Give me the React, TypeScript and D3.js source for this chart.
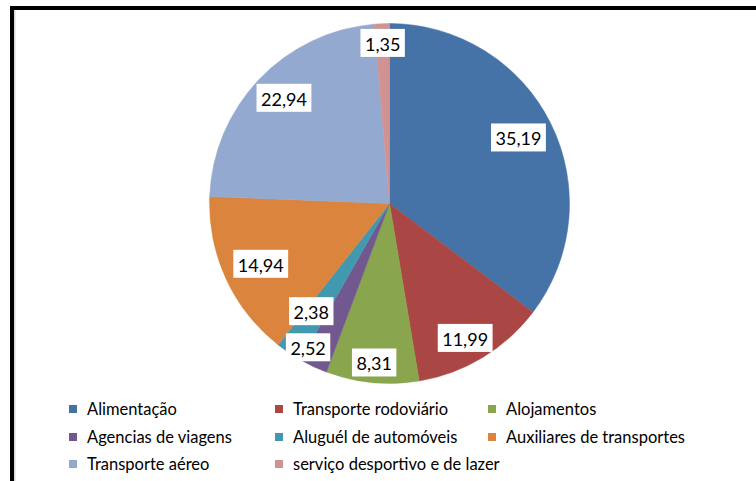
import React from 'react';
import * as d3 from 'd3';

const categories = [
  'Alimentação',
  'Transporte rodoviário',
  'Alojamentos',
  'Agencias de viagens',
  'Aluguél de automóveis',
  'Auxiliares de transportes',
  'Transporte aéreo',
  'serviço desportivo e de lazer',
];
const values = [35.19, 11.99, 8.31, 2.52, 2.38, 14.94, 22.94, 1.35];
const valueLabels = ['35,19', '11,99', '8,31', '2,52', '2,38', '14,94', '22,94', '1,35'];
const colors = ['#4572A7', '#AA4643', '#89A54E', '#71588F', '#4198AF', '#DB843D', '#93A9CF', '#D19392'];

// label nudges (px) for crowded small slices
const labelNudge: Record<number, [number, number]> = {
  0: [-2, -1],
  1: [-2, 6],
  2: [0, 0],
  3: [-16, 4],
  4: [7, -19],
  5: [4, -1],
  6: [1, -4],
};

const W = 756;
const H = 481;
const cx = 389.5;
const cy = 203.5;
const R = 180;
const labelFont = '18px Lato';
const legendFont = '16.5px Lato';

function measure(text: string, font: string): number {
  const c = document.createElement('canvas').getContext('2d');
  if (!c) return text.length * 8;
  c.font = font;
  return c.measureText(text).width;
}

export default function App() {
  const pie = d3.pie<number>().sort(null).value((d) => d)(values);
  const arc = d3.arc<d3.PieArcDatum<number>>().innerRadius(0).outerRadius(R);

  const labels = pie.map((p, i) => {
    const tw = measure(valueLabels[i], labelFont);
    const bw = tw + 9;
    const bh = 28;
    const mid = (p.startAngle + p.endAngle) / 2;
    const dx = Math.sin(mid);
    const dy = -Math.cos(mid);
    const hx = (bw / 2) * Math.sign(dx || 1);
    const hy = (bh / 2) * Math.sign(dy || 1);
    const lim = R - 3;
    const b = dx * hx + dy * hy;
    const c = hx * hx + hy * hy - lim * lim;
    const d = -b + Math.sqrt(b * b - c);
    const n = labelNudge[i] || [0, 0];
    return { x: dx * d + n[0], y: dy * d + n[1], bw, bh, text: valueLabels[i] };
  });

  const legendCols = [73, 279, 492];
  const legendRows = [409, 437, 464];

  return (
    <svg
      width={W}
      height={H}
      style={{ position: 'absolute', left: 0, top: 0, background: '#fff' }}
      xmlns="http://www.w3.org/2000/svg"
    >
      <rect x={0} y={0} width={W} height={H} fill="#fff" />
      <rect x={10} y={6} width={W - 10} height={4} fill="#000" />
      <rect x={10} y={6} width={4} height={H - 6} fill="#000" />
      <rect x={14} y={10} width={1.5} height={H - 10} fill="#d8d8d8" />
      <g transform={`translate(${cx},${cy})`}>
        {pie.map((p, i) => (
          <path key={i} d={arc(p) || ''} fill={colors[i]} stroke={colors[i]} strokeWidth={0.5} />
        ))}
        {labels.map((l, i) => (
          <g key={i}>
            <rect x={l.x - l.bw / 2} y={l.y - l.bh / 2} width={l.bw} height={l.bh} fill="#fff" />
            <text
              x={l.x}
              y={l.y + 1}
              textAnchor="middle"
              dominantBaseline="central"
              style={{ font: labelFont }}
              fill="#000"
            >
              {l.text}
            </text>
          </g>
        ))}
      </g>
      <g>
        {categories.map((c, i) => {
          const x = legendCols[i % 3];
          const y = legendRows[Math.floor(i / 3)];
          return (
            <g key={i}>
              <rect x={x - 4} y={y - 4} width={8} height={8} fill={colors[i]} />
              <text x={x + 14} y={y} dominantBaseline="central" style={{ font: legendFont }} fill="#000">
                {c}
              </text>
            </g>
          );
        })}
      </g>
    </svg>
  );
}
